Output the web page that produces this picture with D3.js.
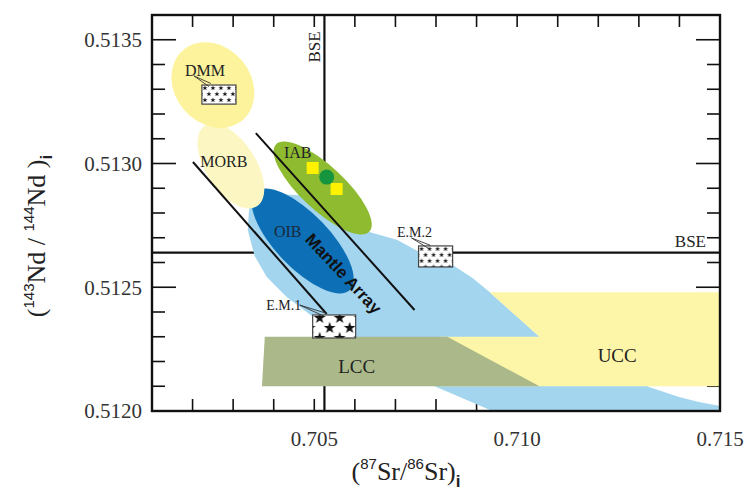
<!DOCTYPE html>
<html>
<head>
<meta charset="utf-8">
<script src="https://cdn.jsdelivr.net/npm/d3@7/dist/d3.min.js"></script>
<style>
  body { margin: 0; background: #fff; }
  svg { display: block; }
</style>
</head>
<body>
<svg id="chart" width="748" height="493"></svg>
<script>
// ---- Axes -----------------------------------------------------------------
const srDomain = [0.701, 0.715];
const ndDomain = [0.5120, 0.5136];
const srTickLabels = ["0.705", "0.710", "0.715"];
const ndTickLabels = ["0.5120", "0.5125", "0.5130", "0.5135"];

// Bulk Silicate Earth reference values
const bseSr = 0.70525;
const bseNd = 0.51264;

// ---- Fields (87Sr/86Sr, 143Nd/144Nd) --------------------------------------
// broad mantle-array envelope extending toward the crust
const mantleEnvelope = [
  [0.70349, 0.512857], [0.70415, 0.512877], [0.70489, 0.512869],
  [0.70636, 0.512723], [0.70705, 0.512691], [0.70759, 0.512642],
  [0.70841, 0.512590], [0.70890, 0.512537], [0.70932, 0.512481],
  [0.71055, 0.512300], [0.71202, 0.512206], [0.71325, 0.512097],
  [0.71399, 0.512057], [0.71448, 0.512036], [0.71500, 0.512020],
  [0.71500, 0.512000], [0.70939, 0.512000], [0.70801, 0.512097],
  [0.70538, 0.512287], [0.70494, 0.512384], [0.70432, 0.512461],
  [0.70383, 0.512541], [0.70353, 0.512626], [0.70336, 0.512731],
  [0.70339, 0.512812]
];
const uccField = [
  [0.70932, 0.51248], [0.71500, 0.51248], [0.71500, 0.51210],
  [0.70810, 0.51210], [0.70810, 0.51230], [0.71055, 0.51230]
];
const lccField = [
  [0.70378, 0.51230], [0.70828, 0.51230], [0.71055, 0.51210], [0.70371, 0.51210]
];

// elliptical reservoirs: centre, end of long axis, end of short axis
const ellipseNames = ["OIB", "MORB", "DMM", "IAB"];
const ellipseCentres = [[0.704715, 0.512687], [0.702944, 0.512990], [0.702500, 0.513317], [0.705207, 0.512901]];
const ellipseMajorEnds = [[0.705877, 0.512489], [0.703586, 0.512827], [0.703229, 0.513175], [0.706359, 0.512725]];
const ellipseMinorEnds = [[0.705193, 0.512763], [0.703460, 0.513045], [0.703217, 0.513416], [0.705576, 0.512966]];

// mantle array bounding lines
const mantleArrayLines = [
  [[0.702009, 0.513006], [0.705306, 0.512392]],
  [[0.703559, 0.513123], [0.707471, 0.512408]]
];

// end-member boxes: [Sr min, Sr max], [Nd min, Nd max]
const endMemberNames = ["DMM", "E.M.1", "E.M.2"];
const endMemberSr = [[0.70223, 0.70307], [0.70496, 0.70602], [0.70757, 0.70841]];
const endMemberNd = [[0.513240, 0.513317], [0.512295, 0.512388], [0.512582, 0.512667]];
const endMemberLeaders = [
  [[0.702033, 0.513354], [0.702427, 0.513317]],
  [[0.704641, 0.512428], [0.705281, 0.512388]],
  [[0.707397, 0.512699], [0.707840, 0.512663]]
];

// IAB samples
const sampleSquares = [[0.70496, 0.512982], [0.70555, 0.512897]];
const sampleCircles = [[0.705306, 0.512945]];

// field labels
const fieldLabels = ["DMM", "MORB", "IAB", "OIB", "E.M.1", "E.M.2", "LCC", "UCC"];
const fieldLabelPos = [
  [0.702304, 0.513378], [0.702772, 0.513010], [0.704592, 0.513046], [0.704346, 0.512727],
  [0.704248, 0.512428], [0.707471, 0.512723], [0.706044, 0.512182], [0.712466, 0.512226]
];
const mantleArrayLabelPos = [0.705723, 0.512555];

// ---- Drawing --------------------------------------------------------------
const svg = d3.select("#chart");
const plotL = 152, plotR = 720, plotT = 15, plotB = 411;
const x = d3.scaleLinear().domain(srDomain).range([plotL, plotR]);
const y = d3.scaleLinear().domain(ndDomain).range([plotB, plotT]);
const P = d => [x(d[0]), y(d[1])];

const serif = "'Liberation Serif', 'Times New Roman', serif";
const sans = "'Liberation Sans', Arial, sans-serif";

const defs = svg.append("defs");
defs.append("clipPath").attr("id", "plot")
  .append("rect").attr("x", plotL).attr("y", plotT)
  .attr("width", plotR - plotL).attr("height", plotB - plotT);

// ticks on all four sides, pointing inward
const srTicks = d3.range(15).map(i => +(srDomain[0] + i * 0.001).toFixed(3));
const ndTicks = d3.range(17).map(i => +(ndDomain[0] + i * 0.0001).toFixed(4));
const tickG = svg.append("g").attr("stroke", "#111").attr("stroke-width", 1.6);
srTicks.slice(1, -1).forEach(v => {
  tickG.append("line").attr("x1", x(v)).attr("x2", x(v)).attr("y1", plotB).attr("y2", plotB - 12);
  tickG.append("line").attr("x1", x(v)).attr("x2", x(v)).attr("y1", plotT).attr("y2", plotT + 12);
});
ndTicks.slice(1, -1).forEach((v, i) => {
  const len = (i + 1) % 5 === 0 ? 24 : 13;
  tickG.append("line").attr("y1", y(v)).attr("y2", y(v)).attr("x1", plotL).attr("x2", plotL + len);
  tickG.append("line").attr("y1", y(v)).attr("y2", y(v)).attr("x1", plotR).attr("x2", plotR - len);
});

// BSE reference lines
const bse = svg.append("g").attr("stroke", "#111").attr("stroke-width", 2.2);
bse.append("line").attr("x1", x(bseSr)).attr("x2", x(bseSr)).attr("y1", plotT).attr("y2", plotB);
bse.append("line").attr("x1", plotL).attr("x2", plotR).attr("y1", y(bseNd)).attr("y2", y(bseNd));

const fields = svg.append("g").attr("clip-path", "url(#plot)");
const poly = d3.line().x(d => x(d[0])).y(d => y(d[1])).curve(d3.curveLinearClosed);

fields.append("path").attr("d", poly(mantleEnvelope)).attr("fill", "#a3d5ef");
fields.append("path").attr("d", poly(uccField)).attr("fill", "#fdf6a8");
fields.append("path").attr("d", poly(lccField)).attr("fill", "#abb98a");

const ellipseFill = { OIB: "#0d6fb6", MORB: "#fcf7c2", DMM: "#fcf39c", IAB: "#8fbb31" };
ellipseNames.forEach((name, i) => {
  const [cx, cy] = P(ellipseCentres[i]);
  const [mx, my] = P(ellipseMajorEnds[i]);
  const [nx, ny] = P(ellipseMinorEnds[i]);
  const a = Math.hypot(mx - cx, my - cy);
  const b = Math.hypot(nx - cx, ny - cy);
  const ang = Math.atan2(my - cy, mx - cx) * 180 / Math.PI;
  fields.append("ellipse")
    .attr("transform", `translate(${cx},${cy}) rotate(${ang})`)
    .attr("rx", a).attr("ry", b)
    .attr("fill", ellipseFill[name]);
});

// IAB sample symbols
sampleSquares.forEach(d => {
  fields.append("rect").attr("x", x(d[0]) - 6).attr("y", y(d[1]) - 6)
    .attr("width", 12).attr("height", 12).attr("fill", "#fff200");
});
sampleCircles.forEach(d => {
  fields.append("circle").attr("cx", x(d[0])).attr("cy", y(d[1])).attr("r", 7.5)
    .attr("fill", "#15953e");
});

// mantle array lines
mantleArrayLines.forEach(l => {
  svg.append("line")
    .attr("x1", x(l[0][0])).attr("y1", y(l[0][1]))
    .attr("x2", x(l[1][0])).attr("y2", y(l[1][1]))
    .attr("stroke", "#111").attr("stroke-width", 2);
});

// end-member boxes with star fills
const star = d3.symbol().type(d3.symbolStar);
endMemberNames.forEach((name, i) => {
  const x0 = x(endMemberSr[i][0]), x1 = x(endMemberSr[i][1]);
  const y0 = y(endMemberNd[i][1]), y1 = y(endMemberNd[i][0]);
  const big = name === "E.M.1";
  const pw = big ? 20 : 8, ph = big ? 20 : 12;
  const pat = defs.append("pattern").attr("id", "pat" + i)
    .attr("patternUnits", "userSpaceOnUse")
    .attr("x", x0 + (big ? 7 : 1)).attr("y", y0 + (big ? 3 : 0))
    .attr("width", pw).attr("height", ph);
  pat.append("rect").attr("width", pw).attr("height", ph).attr("fill", "#fff");
  const pts = big ? [[0, 0], [10, 10], [20, 0], [0, 20], [20, 20]] : [[2, 3], [6, 9]];
  pts.forEach(p => pat.append("path")
    .attr("d", star.size(big ? 44 : 9)())
    .attr("transform", `translate(${p[0]},${p[1]})`)
    .attr("fill", "#111"));
  svg.append("rect").attr("x", x0).attr("y", y0)
    .attr("width", x1 - x0).attr("height", y1 - y0)
    .attr("fill", `url(#pat${i})`).attr("stroke", "#444").attr("stroke-width", 1.2);

  // leader wedge from label to box
  const [s, e] = endMemberLeaders[i].map(P);
  const dx = e[0] - s[0], dy = e[1] - s[1], L = Math.hypot(dx, dy);
  const ox = -dy / L * 1.8, oy = dx / L * 1.8;
  svg.append("path")
    .attr("d", `M${s[0]},${s[1]}L${e[0] + ox},${e[1] + oy}M${s[0]},${s[1]}L${e[0] - ox},${e[1] - oy}`)
    .attr("stroke", "#333").attr("stroke-width", 0.9).attr("fill", "none");
});

// field labels
const labelSize = { "DMM": 16, "MORB": 16, "IAB": 16, "OIB": 16, "E.M.1": 14, "E.M.2": 14, "LCC": 19, "UCC": 19 };
fieldLabels.forEach((t, i) => {
  const [lx, ly] = P(fieldLabelPos[i]);
  svg.append("text").attr("x", lx).attr("y", ly).attr("dy", "0.35em")
    .attr("text-anchor", "middle")
    .attr("font-family", serif).attr("font-size", labelSize[t])
    .attr("fill", t === "OIB" ? "#1b2a3a" : "#222").text(t);
});
{
  const [lx, ly] = P(mantleArrayLabelPos);
  svg.append("text").attr("transform", `translate(${lx},${ly}) rotate(47)`)
    .attr("dy", "0.35em").attr("text-anchor", "middle")
    .attr("font-family", sans).attr("font-weight", "bold").attr("font-size", 17)
    .attr("fill", "#111").text("Mantle Array");
}

// BSE labels
svg.append("text").attr("transform", `translate(${x(0.705) + 6},${plotT + 32}) rotate(-90)`)
  .attr("text-anchor", "middle").attr("font-family", serif).attr("font-size", 17)
  .attr("fill", "#222").text("BSE");
svg.append("text").attr("x", plotR - 14).attr("y", y(0.5127) + 3).attr("dy", "0.35em")
  .attr("text-anchor", "end").attr("font-family", serif).attr("font-size", 17)
  .attr("fill", "#222").text("BSE");

// frame
svg.append("rect").attr("x", plotL).attr("y", plotT)
  .attr("width", plotR - plotL).attr("height", plotB - plotT)
  .attr("fill", "none").attr("stroke", "#111").attr("stroke-width", 2.4);

// tick labels
srTickLabels.forEach(t => {
  svg.append("text").attr("x", x(+t)).attr("y", 446)
    .attr("text-anchor", "middle").attr("font-family", serif).attr("font-size", 21)
    .attr("fill", "#333").text(t);
});
ndTickLabels.forEach(t => {
  svg.append("text").attr("x", plotL - 10).attr("y", y(+t)).attr("dy", "0.35em")
    .attr("text-anchor", "end").attr("font-family", serif).attr("font-size", 21)
    .attr("fill", "#333").text(t);
});

// axis titles
const xt = svg.append("text").attr("x", 406).attr("y", 480)
  .attr("text-anchor", "middle").attr("font-family", serif).attr("font-size", 26).attr("fill", "#222");
xt.append("tspan").text("(");
xt.append("tspan").attr("font-family", sans).attr("font-size", 15).attr("dy", -11).text("87");
xt.append("tspan").attr("dy", 11).text("Sr/");
xt.append("tspan").attr("font-family", sans).attr("font-size", 15).attr("dy", -11).text("86");
xt.append("tspan").attr("dy", 11).text("Sr)");
xt.append("tspan").attr("font-family", sans).attr("font-weight", "bold").attr("font-size", 17).attr("dy", 7).text("i");

const yt = svg.append("text").attr("transform", "translate(45,236) rotate(-90)")
  .attr("text-anchor", "middle").attr("font-family", serif).attr("font-size", 26).attr("fill", "#222");
yt.append("tspan").text("(");
yt.append("tspan").attr("font-family", sans).attr("font-size", 15).attr("dy", -11).text("143");
yt.append("tspan").attr("dy", 11).text("Nd / ");
yt.append("tspan").attr("font-family", sans).attr("font-size", 15).attr("dy", -11).text("144");
yt.append("tspan").attr("dy", 11).text("Nd )");
yt.append("tspan").attr("font-family", sans).attr("font-weight", "bold").attr("font-size", 17).attr("dy", 7).text("i");
</script>
</body>
</html>
